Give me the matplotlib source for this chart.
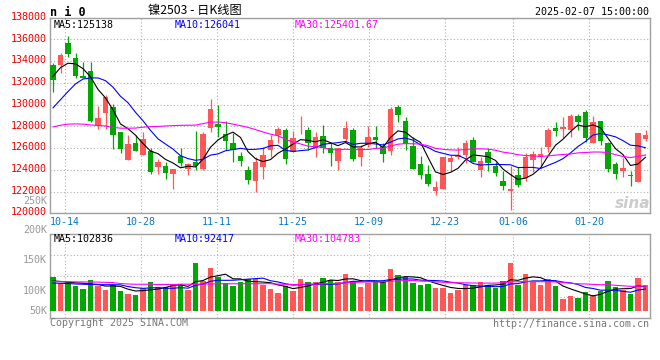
import matplotlib
matplotlib.use('Agg')
import matplotlib.pyplot as plt
import matplotlib.transforms as mtrans
import numpy as np
import pandas as pd

# 데이터 (镍2503 일봉, 2024-10-10 ~ 2025-02-07)
date_labels = ['10-14', '10-28', '11-11', '11-25', '12-09', '12-23', '01-06', '01-20']
date_idx = [2, 12, 22, 32, 42, 52, 61, 71]

open_ = [133600, 133640, 135700, 134280, 132620, 133090, 128020, 129250, 129740, 127470,
         124900, 126490, 125360, 125720, 124220, 124370, 123640, 125260, 124100, 124740,
         124100, 127870, 128210, 127260, 126460, 125260, 123980, 122990, 124280, 125820,
         127200, 127660, 125660, 127350, 127660, 125970, 127100, 126030, 124830, 126860,
         127660, 125140, 126250, 127010, 126220, 125720, 129740, 128490, 126180, 124530,
         123610, 122070, 122230, 124740, 125200, 125330, 126740, 123980, 125630, 124370,
         122960, 122070, 123490, 123270, 124900, 125140, 126090, 127870, 127720, 127660,
         128980, 129280, 126490, 128490, 126460, 124530, 123910, 123480, 122900, 126830]
high = [133800, 134770, 136340, 134770, 133960, 133960, 129870, 130910, 130050, 127500,
        127200, 127200, 127500, 125970, 124960, 124680, 124070, 125970, 124650, 127560,
        127470, 130510, 129960, 128490, 127350, 125660, 124340, 125140, 126120, 127200,
        127960, 127810, 127560, 128950, 127960, 127470, 128090, 126490, 126030, 128520,
        127810, 126280, 128030, 128030, 126490, 129740, 129960, 128880, 127040, 125260,
        124400, 123000, 125200, 125360, 126120, 126740, 126980, 125200, 125970, 124740,
        123880, 124340, 124280, 125510, 125720, 126120, 127810, 128420, 128880, 129130,
        129130, 129500, 128950, 128490, 126580, 124710, 125110, 123910, 127350, 127660]
low = [131200, 132930, 134400, 132470, 132400, 128420, 127750, 127750, 125910, 125570,
       124900, 125700, 125350, 123610, 123610, 123120, 122200, 124340, 123520, 123980,
       123980, 127500, 127040, 125820, 124740, 124370, 122690, 121950, 123180, 125200,
       126430, 124530, 125600, 127300, 125820, 125140, 125510, 124370, 123980, 126580,
       124830, 124370, 126060, 125970, 124710, 125360, 128390, 125820, 124070, 123150,
       122500, 121670, 122200, 123880, 124960, 124650, 124700, 123360, 123880, 123420,
       122140, 120300, 122440, 122960, 123820, 124280, 125660, 127100, 126890, 126980,
       127660, 126580, 126490, 126280, 123820, 123150, 123360, 122530, 122900, 126680]
close = [132250, 134560, 134620, 132660, 132440, 128520, 128730, 130720, 127200, 125910,
         126370, 125720, 126860, 123790, 124680, 123730, 124070, 124650, 124530, 124340,
         127290, 129590, 127960, 126680, 125820, 124830, 123060, 124710, 125360, 126740,
         127750, 125020, 126950, 127410, 126430, 127040, 126030, 125570, 126030, 127870,
         125020, 126030, 127010, 126770, 125480, 129590, 129070, 126370, 124070, 123520,
         122690, 122380, 125200, 125050, 125360, 126490, 124740, 124830, 124590, 123670,
         122500, 122200, 122600, 125200, 125420, 125420, 127660, 127600, 127960, 128950,
         128420, 126890, 128420, 126680, 124100, 123640, 124160, 123420, 127350, 127200]
volume = [144, 117, 124, 107, 93, 131, 106, 88, 110, 84,
          71, 67, 98, 124, 103, 103, 110, 114, 88, 205,
          127, 184, 143, 120, 107, 124, 135, 135, 110, 93,
          77, 106, 85, 135, 124, 124, 141, 131, 124, 157,
          128, 103, 117, 127, 127, 178, 152, 144, 120, 110,
          114, 98, 98, 77, 88, 110, 110, 123, 110, 96,
          127, 205, 110, 157, 124, 110, 135, 107, 50, 64,
          56, 79, 67, 84, 127, 103, 88, 71, 141, 110]   # 천 단위

# 차트 앞쪽(이전 데이터가 필요한 구간)의 이동평균 값 - 그림에서 읽음
ma5_head = [132600, 133400, 133800, 133750]
ma10_head = [129700, 130450, 131200, 131900, 132350, 132450, 132450, 132200, 131600]
ma30_head = [127950, 128100, 128200, 128220, 128200, 128130, 128080, 128030, 127900, 127830,
             127820, 127840, 127920, 127970, 127990, 128030, 128060, 128090, 128100, 128110,
             128250, 128380, 128400, 128330, 128200, 128060, 127900, 127700, 127480]
vma5_head = [127, 125, 122, 119]
vma10_head = [118, 117, 116, 114, 113, 112, 111, 111, 111]
vma30_head = [124, 124, 124, 123, 123, 122, 122, 121, 120, 116,
              114, 113, 113, 113, 112, 112, 112, 113, 113, 113,
              114, 114, 115, 115, 115, 115, 115, 115, 115]

# 데이터 전처리
df = pd.DataFrame({'open': open_, 'high': high, 'low': low, 'close': close,
                   'volume': np.array(volume) * 1000})


def moving_avg(s, n, head):
    m = s.rolling(n).mean()
    m.iloc[:len(head)] = head
    return m


df['ma5'] = moving_avg(df['close'], 5, ma5_head)
df['ma10'] = moving_avg(df['close'], 10, ma10_head)
df['ma30'] = moving_avg(df['close'], 30, ma30_head)
df['vma5'] = moving_avg(df['volume'], 5, np.array(vma5_head) * 1000)
df['vma10'] = moving_avg(df['volume'], 10, np.array(vma10_head) * 1000)
df['vma30'] = moving_avg(df['volume'], 30, np.array(vma30_head) * 1000)

# 스타일
RED = '#ff5656'
GREEN = '#00a800'
GRID = '#b0b0b0'
FRAME = '#a0a0a0'
MONO = 'DejaVu Sans Mono'
FS = 7.2

plt.rcParams['font.family'] = [MONO, 'Noto Sans CJK SC']
plt.rcParams['font.size'] = FS

W, H = 660, 360
fig = plt.figure(figsize=(W / 100, H / 100), dpi=100)
fig.patch.set_facecolor('white')


def box(l, t, r, b):
    return [l / W, 1 - b / H, (r - l) / W, (b - t) / H]


ax = fig.add_axes(box(50, 17.6, 650, 213.3))
axv = fig.add_axes(box(50, 234.3, 650, 318), sharex=ax)

x = np.arange(len(df))
up = df['close'] >= df['open']
colors = np.where(up, RED, GREEN)

# 캔들
ax.vlines(x, df['low'], df['high'], colors=colors, lw=0.9, zorder=3)
body_lo = np.minimum(df['open'], df['close'])
body_h = np.maximum((df['close'] - df['open']).abs(), 60)
ax.bar(x, body_h, bottom=body_lo, width=0.78, color=colors, linewidth=0, zorder=3)

ax.plot(x, df['ma5'], color='black', lw=0.8, zorder=4)
ax.plot(x, df['ma10'], color='blue', lw=0.8, zorder=4)
ax.plot(x, df['ma30'], color='#ff00ff', lw=0.8, zorder=4)

# 거래량
axv.bar(x, df['volume'], width=0.78, color=colors, linewidth=0, zorder=3)
axv.plot(x, df['vma5'], color='black', lw=0.8, zorder=4)
axv.plot(x, df['vma10'], color='blue', lw=0.8, zorder=4)
axv.plot(x, df['vma30'], color='#ff00ff', lw=0.8, zorder=4)

# 축 설정 (캔들 간격 7.5px, 날짜 눈금은 600/79px 간격으로 배치됨)
ax.set_xlim(-0.4, 79.6)
ax.set_ylim(120000, 138000)
axv.set_ylim(-31200, 326200)

ticks = [d * 80 / 79 - 0.4 for d in date_idx]
ax.set_xticks(ticks)
ax.set_xticklabels(date_labels, color='#0a78c8', fontsize=FS)
ax.tick_params(axis='x', length=0, pad=2.5)
ax.set_yticks(range(120000, 138001, 2000))
ax.set_yticklabels([str(v) for v in range(120000, 138001, 2000)], color='#ee0000', fontsize=FS)
ax.tick_params(axis='y', length=0, pad=2.5)
# 가격 라벨은 격자선보다 살짝 위에 표시됨
lift = mtrans.ScaledTranslation(0, 1.8 / 100, fig.dpi_scale_trans)
for lbl in ax.get_yticklabels():
    lbl.set_transform(lbl.get_transform() + lift)
ax.grid(True, color=GRID, ls=(0, (1, 2)), lw=0.8, zorder=0)

axv.tick_params(axis='x', length=0, labelbottom=False)
axv.set_yticks([])
axv.grid(True, axis='x', color=GRID, ls=(0, (1, 2)), lw=0.8, zorder=0)
for f in (0.25, 0.5, 0.75):
    axv.plot([0, 1], [f, f], transform=axv.transAxes, color=GRID,
             ls=(0, (1, 2)), lw=0.8, zorder=0)

for a in (ax, axv):
    for sp in a.spines.values():
        sp.set_color(FRAME)
        sp.set_linewidth(1)

# 텍스트


def ftext(px, py, s, **kw):
    fig.text(px / W, 1 - py / H, s, va='center', **kw)


ftext(50, 12, 'n i 0', fontsize=8.5, fontweight='bold', color='black')
ftext(195, 10.5, '镍2503 - 日K线图', ha='center', fontsize=8.8,
      family=['Noto Sans CJK SC', 'DejaVu Sans'], color='black')
ftext(649, 12, '2025-02-07 15:00:00', ha='right', fontsize=FS, color='black')

ftext(54, 24.5, 'MA5:125138', fontsize=FS, color='black')
ftext(175, 24.5, 'MA10:126041', fontsize=FS, color='blue')
ftext(295, 24.5, 'MA30:125401.67', fontsize=FS, color='#ff00ff')

ftext(54, 239.5, 'MA5:102836', fontsize=FS, color='black')
ftext(175, 239.5, 'MA10:92417', fontsize=FS, color='blue')
ftext(295, 239.5, 'MA30:104783', fontsize=FS, color='#ff00ff')

for lbl, py in [('250K', 201), ('200K', 230), ('150K', 260), ('100K', 291), ('50K', 311)]:
    ftext(47, py, lbl, ha='right', fontsize=FS, color='#999999')

ftext(50, 323.5, 'Copyright 2025 SINA.COM', fontsize=FS, color='#777777')
ftext(649, 324, 'http://finance.sina.com.cn', ha='right', fontsize=FS, color='#777777')

ftext(633, 203, 'sina', ha='center', fontsize=11, fontweight='bold',
      fontstyle='italic', color='#cccccc', family='DejaVu Sans')

fig.savefig('out.png', dpi=100)
plt.close()
